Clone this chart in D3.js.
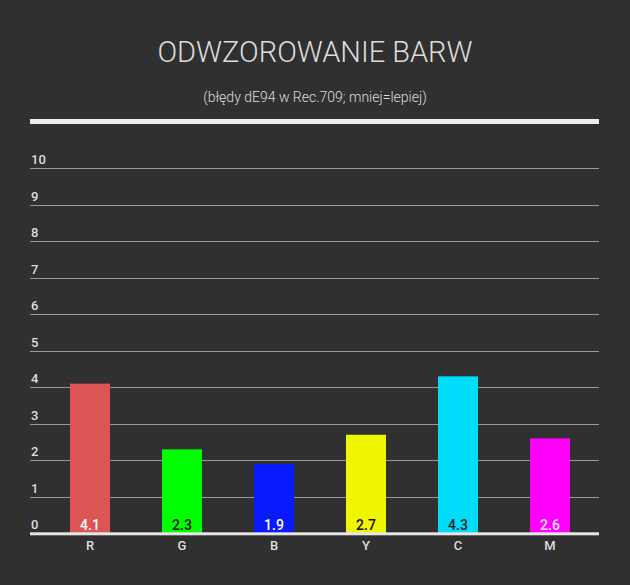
<html>
<head>
<script src="https://d3js.org/d3.v7.min.js"></script>
<style>
  body { margin: 0; background: #303030; }
</style>
</head>
<body>
<svg id="vis"></svg>
<script>
  const categories = ['R', 'G', 'B', 'Y', 'C', 'M'];
  const values = [4.1, 2.3, 1.9, 2.7, 4.3, 2.6];
  const barColors = ['#dc5555', '#00ff00', '#0a1aff', '#f0f500', '#00ddf8', '#ff00ff'];
  const labelColors = ['#ffffff', '#111111', '#ffffff', '#111111', '#222222', '#ffe0ff'];
  const yTicks = [0, 1, 2, 3, 4, 5, 6, 7, 8, 9, 10];
  const title = 'ODWZOROWANIE BARW';
  const subtitle = '(błędy dE94 w Rec.709; mniej=lepiej)';

  const width = 630;
  const height = 585;
  const left = 30;
  const right = 599;
  const font = 'Roboto, sans-serif';

  let svg = d3.select('#vis')
    .attr('width', width)
    .attr('height', height);

  svg.append('rect')
    .attr('width', width)
    .attr('height', height)
    .attr('fill', '#303030');

  // header
  svg.append('text')
    .attr('x', width / 2)
    .attr('y', 62)
    .attr('text-anchor', 'middle')
    .attr('font-family', font)
    .attr('font-weight', 300)
    .attr('font-size', 29)
    .attr('fill', '#dddddd')
    .text(title);

  svg.append('text')
    .attr('x', width / 2)
    .attr('y', 102)
    .attr('text-anchor', 'middle')
    .attr('font-family', font)
    .attr('font-weight', 300)
    .attr('font-size', 14)
    .attr('fill', '#dddddd')
    .text(subtitle);

  svg.append('rect')
    .attr('x', left)
    .attr('y', 119)
    .attr('width', right - left)
    .attr('height', 5)
    .attr('fill', '#eeeeee');

  let yscale = d3.scaleLinear()
    .domain([0, 10])
    .range([533.3, 168.3]);

  let xscale = d3.scaleBand()
    .domain(categories)
    .range([44, 596])
    .paddingInner(52 / 92)
    .paddingOuter(52 / 92 / 2);

  // gridlines
  svg.selectAll('.grid')
    .data(yTicks.filter(d => d > 0))
    .enter().append('line')
    .attr('x1', left)
    .attr('x2', right)
    .attr('y1', d => Math.round(yscale(d)) + 0.5)
    .attr('y2', d => Math.round(yscale(d)) + 0.5)
    .attr('stroke', '#9a9a9a')
    .attr('stroke-width', 1);

  svg.selectAll('.ytick')
    .data(yTicks)
    .enter().append('text')
    .attr('x', left + 1)
    .attr('y', d => yscale(d) - 4)
    .attr('font-family', font)
    .attr('font-weight', 500)
    .attr('font-size', 13)
    .attr('fill', '#dddddd')
    .text(d => d);

  // bars
  let data = categories.map((c, i) => ({ cat: c, value: values[i], color: barColors[i], label: labelColors[i] }));

  svg.selectAll('.bar')
    .data(data)
    .enter().append('rect')
    .attr('x', d => xscale(d.cat))
    .attr('width', xscale.bandwidth())
    .attr('y', d => yscale(d.value))
    .attr('height', d => yscale(0) - yscale(d.value))
    .attr('fill', d => d.color);

  svg.selectAll('.val')
    .data(data)
    .enter().append('text')
    .attr('x', d => xscale(d.cat) + xscale.bandwidth() / 2)
    .attr('y', yscale(0) - 3.5)
    .attr('text-anchor', 'middle')
    .attr('font-family', font)
    .attr('font-weight', 500)
    .attr('font-size', 14)
    .attr('fill', d => d.label)
    .text(d => d.value.toFixed(1));

  // baseline
  svg.append('rect')
    .attr('x', left)
    .attr('y', yscale(0) - 1)
    .attr('width', right - left)
    .attr('height', 3)
    .attr('fill', '#e6e6e6');

  svg.selectAll('.cat')
    .data(categories)
    .enter().append('text')
    .attr('x', d => xscale(d) + xscale.bandwidth() / 2)
    .attr('y', 550)
    .attr('text-anchor', 'middle')
    .attr('font-family', font)
    .attr('font-weight', 500)
    .attr('font-size', 13)
    .attr('fill', '#dddddd')
    .text(d => d);
</script>
</body>
</html>
